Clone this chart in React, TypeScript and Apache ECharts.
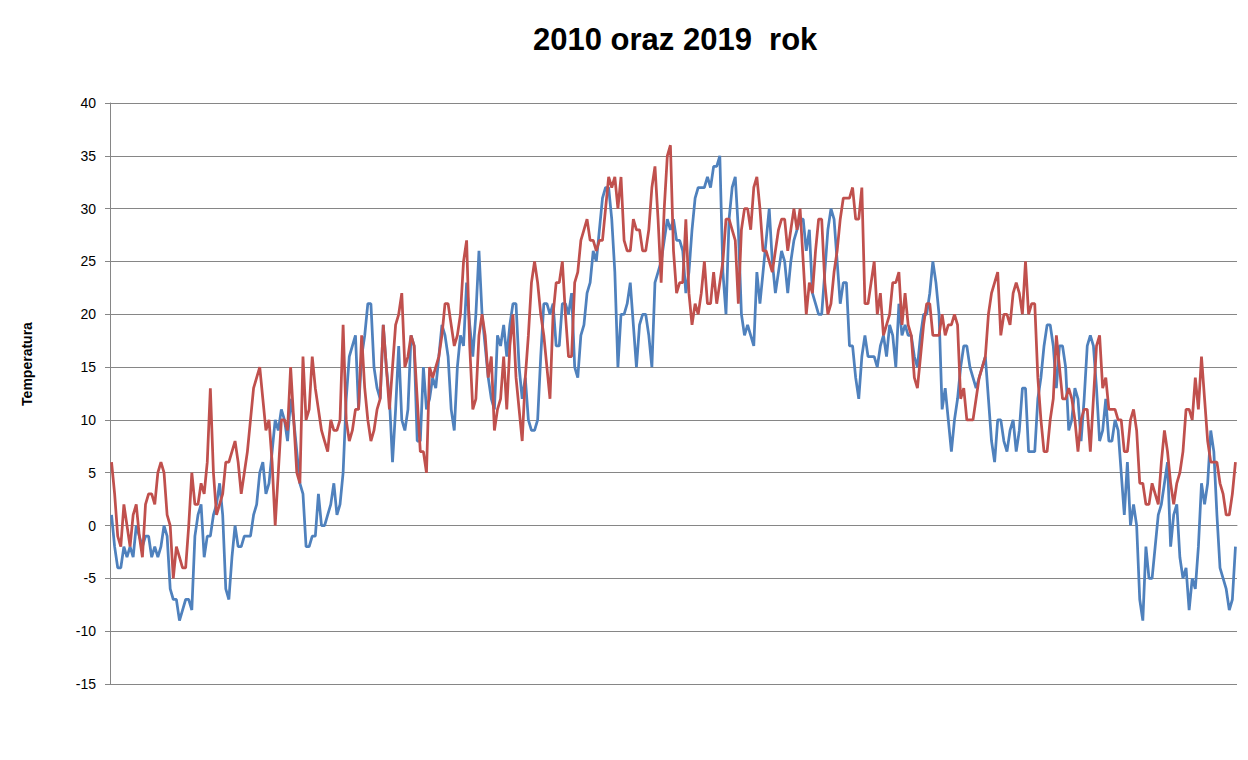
import React, { useEffect, useRef } from "react";
import * as echarts from "echarts";

const titleText = "2010 oraz 2019  rok";
const yAxisName = "Temperatura";
const yTicks = { min: -15, max: 40, interval: 5 };

// blue series (first)
const seriesBlue: number[] = [
  1, -2, -4, -4, -2, -3, -2, -3, 0, -1, -2, -1, -1, -3, -2, -3, -2, 0, -1, -6,
  -7, -7, -9, -8, -7, -7, -8, -1, 1, 2, -3, -1, -1, 1, 2, 4, 1, -6, -7, -3,
  0, -2, -2, -1, -1, -1, 1, 2, 5, 6, 3, 4, 7, 10, 9, 11, 10, 8, 12, 10,
  7, 4, 3, -2, -2, -1, -1, 3, 0, 0, 1, 2, 4, 1, 2, 5, 12, 16, 17, 18,
  11, 16, 18, 21, 21, 15, 13, 12, 19, 15, 12, 6, 11, 17, 10, 9, 11, 18, 17, 8,
  8, 15, 11, 12, 14, 13, 16, 19, 18, 16, 11, 9, 15, 18, 17, 23, 19, 16, 20, 26,
  20, 17, 14, 12, 11, 18, 17, 19, 16, 19, 21, 21, 15, 12, 14, 10, 9, 9, 10, 16,
  21, 21, 20, 21, 17, 17, 21, 21, 20, 22, 15, 14, 18, 19, 22, 23, 26, 25, 28, 31,
  32, 32, 29, 24, 15, 20, 20, 21, 23, 19, 15, 19, 20, 20, 18, 15, 23, 24, 25, 27,
  29, 28, 29, 27, 27, 26, 22, 24, 28, 31, 32, 32, 32, 33, 32, 34, 34, 35, 24, 20,
  29, 32, 33, 28, 20, 18, 19, 18, 17, 24, 21, 24, 27, 30, 25, 22, 24, 26, 25, 22,
  25, 27, 28, 29, 29, 26, 28, 22, 21, 20, 20, 24, 28, 30, 29, 25, 21, 23, 23, 17,
  17, 14, 12, 16, 18, 16, 16, 16, 15, 17, 18, 16, 19, 18, 15, 21, 18, 19, 18, 18,
  16, 15, 18, 20, 20, 22, 25, 23, 20, 11, 13, 10, 7, 10, 12, 15, 17, 17, 15, 14,
  13, 14, 15, 16, 12, 8, 6, 10, 10, 8, 7, 9, 10, 7, 9, 13, 13, 7, 7, 7,
  12, 14, 17, 19, 19, 17, 13, 17, 17, 15, 9, 10, 13, 12, 8, 12, 17, 18, 17, 13,
  8, 9, 12, 8, 8, 10, 9, 5, 1, 6, 0, 2, 0, -7, -9, -2, -5, -5, -2, 1,
  2, 4, 6, -2, 1, 2, -3, -5, -4, -8, -5, -6, -2, 4, 2, 4, 9, 7, 1, -4,
  -5, -6, -8, -7, -2,
];

// red series (second)
const seriesRed: number[] = [
  6, 3, -1, -2, 2, 0, -2, 1, 2, -1, -3, 2, 3, 3, 2, 5, 6, 5, 1, 0,
  -5, -2, -3, -4, -4, 0, 5, 2, 2, 4, 3, 6, 13, 5, 1, 2, 3, 6, 6, 7,
  8, 6, 3, 5, 7, 10, 13, 14, 15, 12, 9, 10, 6, 0, 5, 10, 10, 9, 15, 10,
  5, 4, 16, 10, 11, 16, 13, 11, 9, 8, 7, 10, 9, 9, 10, 19, 10, 8, 9, 11,
  11, 18, 13, 10, 8, 9, 11, 12, 19, 15, 11, 15, 19, 20, 22, 15, 16, 18, 17, 12,
  7, 7, 5, 15, 14, 15, 16, 18, 21, 21, 19, 17, 18, 20, 25, 27, 17, 11, 12, 18,
  20, 18, 14, 16, 9, 11, 12, 16, 11, 17, 20, 14, 11, 8, 14, 18, 23, 25, 23, 20,
  18, 15, 12, 20, 23, 23, 25, 20, 16, 16, 23, 24, 27, 28, 29, 27, 27, 26, 27, 27,
  30, 33, 32, 33, 30, 33, 27, 26, 26, 29, 28, 28, 26, 26, 28, 32, 34, 29, 23, 30,
  35, 36, 26, 22, 23, 23, 29, 22, 19, 21, 20, 22, 25, 21, 21, 24, 21, 23, 25, 29,
  29, 28, 27, 21, 28, 30, 30, 28, 32, 33, 30, 26, 26, 25, 24, 26, 28, 29, 29, 26,
  28, 30, 28, 30, 25, 20, 23, 22, 26, 29, 29, 23, 20, 21, 24, 26, 29, 31, 31, 31,
  32, 29, 29, 32, 21, 21, 23, 25, 20, 22, 18, 19, 20, 23, 23, 24, 19, 22, 19, 18,
  14, 13, 16, 19, 21, 21, 18, 18, 18, 20, 18, 19, 19, 20, 19, 12, 13, 10, 10, 10,
  12, 14, 15, 16, 20, 22, 23, 24, 18, 20, 20, 19, 22, 23, 22, 20, 25, 20, 21, 21,
  14, 10, 7, 7, 10, 12, 18, 15, 12, 12, 13, 12, 10, 7, 10, 11, 11, 7, 12, 17,
  18, 13, 14, 11, 11, 11, 10, 10, 7, 7, 10, 11, 9, 4, 4, 2, 2, 4, 3, 2,
  6, 9, 7, 4, 2, 4, 5, 7, 11, 11, 10, 14, 11, 16, 12, 8, 6, 6, 6, 4,
  3, 1, 1, 3, 6,
];

const categories: string[] = seriesRed.map((_, i) => String(i + 1));

export default function App() {
  const ref = useRef<HTMLDivElement>(null);
  useEffect(() => {
    if (!ref.current) return;
    const chart = echarts.init(ref.current, null, { renderer: "svg" });
    chart.setOption({
      animation: false,
      backgroundColor: "#ffffff",
      graphic: [
        {
          type: "text",
          left: 533,
          top: 24,
          style: {
            text: titleText,
            fontFamily: "Liberation Sans, Arial, sans-serif",
            fontSize: 31,
            fontWeight: "bold",
            fill: "#000000",
          },
        },
        {
          type: "text",
          x: 27,
          y: 364,
          rotation: Math.PI / 2,
          style: {
            text: yAxisName,
            x: 0,
            y: 0,
            align: "center",
            verticalAlign: "middle",
            fontFamily: "Liberation Sans, Arial, sans-serif",
            fontSize: 14,
            fontWeight: "bold",
            fill: "#000000",
          },
        },
      ],
      grid: { left: 110, right: 11, top: 103, bottom: 76, containLabel: false },
      xAxis: {
        type: "category",
        data: categories,
        boundaryGap: true,
        axisLine: { show: true, lineStyle: { color: "#868686", width: 1 } },
        axisTick: { show: false },
        axisLabel: { show: false },
        splitLine: { show: false },
      },
      yAxis: {
        type: "value",
        min: yTicks.min,
        max: yTicks.max,
        interval: yTicks.interval,
        axisLine: { show: true, lineStyle: { color: "#868686", width: 1 } },
        axisTick: { show: true, length: 5, lineStyle: { color: "#868686" } },
        axisLabel: {
          margin: 14,
          fontFamily: "Liberation Sans, Arial, sans-serif",
          fontSize: 14,
          color: "#000000",
        },
        splitLine: { show: true, lineStyle: { color: "#868686", width: 1 } },
      },
      series: [
        {
          name: "2010",
          type: "line",
          data: seriesBlue,
          showSymbol: false,
          symbol: "none",
          lineStyle: { color: "#4F81BD", width: 2.75 },
          itemStyle: { color: "#4F81BD" },
        },
        {
          name: "2019",
          type: "line",
          data: seriesRed,
          showSymbol: false,
          symbol: "none",
          lineStyle: { color: "#C0504D", width: 2.75 },
          itemStyle: { color: "#C0504D" },
        },
      ],
    });
    return () => chart.dispose();
  }, []);
  return (
    <div
      ref={ref}
      style={{ position: "fixed", left: 0, top: 0, width: 1248, height: 760 }}
    />
  );
}
